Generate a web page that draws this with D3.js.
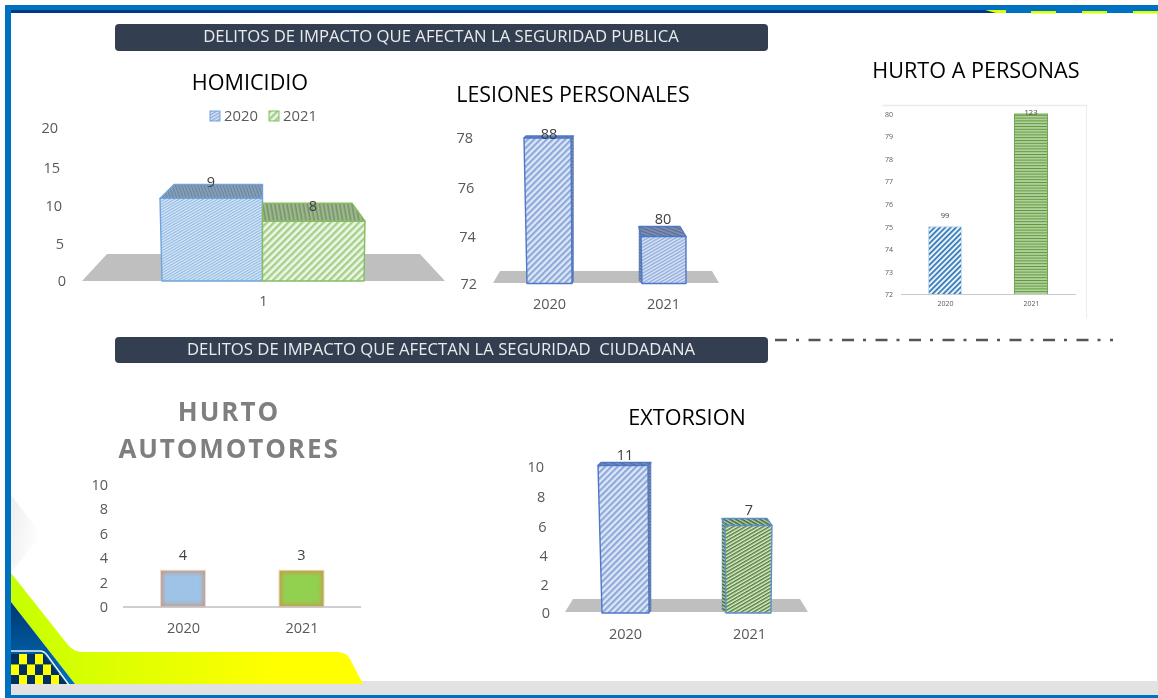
<!DOCTYPE html>
<html>
<head>
<meta charset="utf-8">
<script src="https://cdn.jsdelivr.net/npm/d3@7"></script>
<style>
  html, body { margin: 0; padding: 0; background: #fff; }
  svg { display: block; filter: blur(0.35px); }
  text { font-family: "Open Sans", sans-serif; }
  .tick text { fill: #595959; }
</style>
</head>
<body>
<div id="chart"></div>
<script>
// years shown on every chart
const years = ["2020", "2021"];

// bar heights follow the axis, the printed labels do not (same as the original slide)
const homicidioValues = [11, 8];
const homicidioLabels = [9, 8];
const homicidioTicks = [0, 5, 10, 15, 20];

const lesionesValues = [78, 74];
const lesionesLabels = [88, 80];
const lesionesTicks = [72, 74, 76, 78];

const personasValues = [75, 80];
const personasLabels = [99, 123];
const personasTicks = [72, 73, 74, 75, 76, 77, 78, 79, 80];

const automotoresValues = [3, 3];
const automotoresLabels = [4, 3];
const automotoresTicks = [0, 2, 4, 6, 8, 10];

const extorsionValues = [10.1, 6.1];
const extorsionLabels = [11, 7];
const extorsionTicks = [0, 2, 4, 6, 8, 10];

const width = 1158, height = 698;

const svg = d3.select("#chart").append("svg")
  .attr("width", width)
  .attr("height", height)
  .attr("viewBox", [0, 0, width, height]);

const defs = svg.append("defs");

// hatch fill: lines of one colour on a flat background
function hatch(id, bg, line, size, angle, sw) {
  const p = defs.append("pattern")
    .attr("id", id)
    .attr("patternUnits", "userSpaceOnUse")
    .attr("width", size)
    .attr("height", size)
    .attr("patternTransform", `rotate(${angle})`);
  p.append("rect").attr("width", size).attr("height", size).attr("fill", bg);
  p.append("rect").attr("width", size).attr("height", sw).attr("fill", line);
}
hatch("hBlue", "#dbe8f6", "#8db8e4", 2.4, -30, 1.1);
hatch("hBlueTop", "#8f9fb0", "#5f86ad", 3, 70, 1.2);
hatch("hGreen", "#eef6e8", "#a5d08a", 5, -45, 2.4);
hatch("hGreenTop", "#a3b39a", "#6f9a58", 4, 80, 1.6);
hatch("lBlue", "#dfe8f7", "#8eaadb", 4.4, -45, 2.2);
hatch("lBlueFine", "#dfe8f7", "#8eaadb", 2.8, -30, 1.4);
hatch("lTop", "#8b93a3", "#4f6ea8", 3, 20, 1.4);
hatch("pBlue", "#eaf3fa", "#2e75b6", 3.8, -45, 1.7);
hatch("pGreen", "#b5d0a0", "#5c9a38", 2.8, 0, 1);
hatch("eGreen", "#e4eeda", "#4f7f32", 3, -30, 1.5);
hatch("eTop", "#c5cfbd", "#3d6b2a", 3, 30, 1.6);

function gradient(id, stops, x2, y2) {
  const g = defs.append("linearGradient").attr("id", id)
    .attr("x1", 0).attr("y1", 0).attr("x2", x2).attr("y2", y2);
  stops.forEach((c, i) => g.append("stop").attr("offset", i / (stops.length - 1)).attr("stop-color", c));
}
gradient("yellowGrad", ["#c6ff00", "#ffff00"], 0.75, 0);
gradient("navyGrad", ["#00386f", "#0070c0"], 0, 1);
gradient("greyGrad", ["#eeeeee", "#ffffff"], 1, 0.4);

defs.append("filter").attr("id", "soft")
  .append("feGaussianBlur").attr("stdDeviation", 2.2);

// ---- slide background ----
const line = d3.line();
const bg = svg.append("g");
bg.append("rect").attr("width", width).attr("height", height).attr("fill", "#fff");
bg.append("path").attr("d", "M11,495 L42,535 L11,572 Z").attr("fill", "url(#greyGrad)");
bg.append("rect").attr("x", 11).attr("y", 684).attr("width", 1147).attr("height", 11).attr("fill", "#e2e2e2");
bg.append("rect").attr("x", 360).attr("y", 681).attr("width", 798).attr("height", 4).attr("fill", "#e2e2e2");
bg.append("path")
  .attr("d", "M11,573 L68,645 Q74,652 82,652 L338,652 Q346,652 350,659 L363,684 L75,684 L11,602 Z")
  .attr("fill", "url(#yellowGrad)");
bg.append("path").attr("d", "M11,602 L75,684 L11,684 Z").attr("fill", "url(#navyGrad)");
defs.append("clipPath").attr("id", "checkClip")
  .append("path").attr("d", "M11,652 L42,652 L67,684 L11,684 Z");
const checks = bg.append("g").attr("clip-path", "url(#checkClip)");
d3.range(3).forEach(r => d3.range(8).forEach(c => {
  checks.append("rect")
    .attr("x", 11 + c * 8).attr("y", 654 + r * 10.5)
    .attr("width", 8).attr("height", 10.5)
    .attr("fill", (r + c) % 2 ? "#ffff00" : "#00305f");
}));
bg.append("path").attr("d", "M11,651 L40,651 Q44,651 47,655 L69,685")
  .attr("fill", "none").attr("stroke", "#f4f4f4").attr("stroke-width", 1.4);

// frame
bg.append("rect").attr("x", 5).attr("y", 5).attr("width", 6).attr("height", 693).attr("fill", "#0070c0");
bg.append("rect").attr("x", 5).attr("y", 5).attr("width", 1153).attr("height", 8).attr("fill", "#0070c0");
bg.append("rect").attr("x", 11).attr("y", 10).attr("width", 985).attr("height", 3).attr("fill", "#003a85");
bg.append("rect").attr("x", 5).attr("y", 695).attr("width", 1153).attr("height", 3).attr("fill", "#0070c0");
bg.append("rect").attr("x", 1157).attr("y", 13).attr("width", 1).attr("height", 668).attr("fill", "#d9d9d9");
bg.append("path").attr("d", "M985,10 L1006,10 L1006,13 L996,13 Z").attr("fill", "#dcff00");
[1031, 1082, 1133].forEach(x => {
  bg.append("rect").attr("x", x).attr("y", 11).attr("width", 25).attr("height", 2.5).attr("fill", "#dcff00");
});

// ---- banners and titles ----
function banner(y, h, label) {
  svg.append("rect").attr("x", 115).attr("y", y).attr("width", 653).attr("height", h)
    .attr("rx", 4).attr("fill", "#333f50");
  svg.append("text").attr("x", 441).attr("y", y + h / 2 + 0.5)
    .attr("text-anchor", "middle").attr("dominant-baseline", "middle")
    .attr("font-size", 16.7).attr("fill", "#e9ebee")
    .attr("xml:space", "preserve").style("white-space", "pre")
    .text(label);
}
banner(24, 27, "DELITOS DE IMPACTO QUE AFECTAN LA SEGURIDAD PUBLICA");
banner(337, 26, "DELITOS DE IMPACTO QUE AFECTAN LA SEGURIDAD  CIUDADANA");

function title(label, x, y, size) {
  svg.append("text").attr("x", x).attr("y", y)
    .attr("text-anchor", "middle").attr("dominant-baseline", "middle")
    .attr("font-size", size).attr("fill", "#000").text(label);
}
title("HOMICIDIO", 250, 84.5, 21.6);
title("LESIONES PERSONALES", 573, 96.5, 21.4);
title("HURTO A PERSONAS", 976, 72.5, 21.6);
title("EXTORSION", 687, 419.5, 21.6);

svg.append("text").attr("x", 229).attr("y", 421).attr("text-anchor", "middle")
  .attr("font-size", 26).attr("font-weight", 700).attr("letter-spacing", 2).attr("fill", "#7f7f7f").text("HURTO");
svg.append("text").attr("x", 229).attr("y", 458).attr("text-anchor", "middle")
  .attr("font-size", 26).attr("font-weight", 700).attr("letter-spacing", 1.9).attr("fill", "#7f7f7f").text("AUTOMOTORES");

svg.append("path")
  .attr("d", line([[775, 340], [1113, 340]]))
  .attr("stroke", "#555").attr("stroke-width", 2.6)
  .attr("stroke-dasharray", "12 9 3 9.5");

// ---- helpers ----
// slant: tick labels lean left going up, the 3D charts have them in perspective
function yAxis(y, ticks, x, size, slant = 0) {
  const g = svg.append("g")
    .attr("transform", `translate(${x},0)`)
    .call(d3.axisLeft(y).tickValues(ticks).tickSize(0).tickPadding(0).tickFormat(d3.format("d")));
  g.select(".domain").remove();
  g.selectAll("text")
    .attr("x", d => -(y(ticks[0]) - y(d)) * slant)
    .attr("font-size", size)
    .style("font-family", '"Open Sans", sans-serif');
  return g;
}

function xAxis(x, yPos, size) {
  const g = svg.append("g")
    .attr("transform", `translate(0,${yPos})`)
    .call(d3.axisBottom(x).tickSize(0).tickPadding(0));
  g.select(".domain").remove();
  g.selectAll("text").attr("font-size", size).style("font-family", '"Open Sans", sans-serif');
  return g;
}

function floor(xL, xR, inset, yBase, yBack) {
  svg.append("path")
    .attr("d", line([[xL, yBase], [xR, yBase], [xR - inset, yBack], [xL + inset, yBack]]) + "Z")
    .attr("fill", "#bfbfbf");
}

// box with front, top and an optional side face
function box(xL, xR, yTop, yBase, s) {
  const g = svg.append("g")
    .attr("stroke", s.stroke).attr("stroke-width", s.sw).attr("stroke-linejoin", "round");
  const bL = xL + s.backL, bR = xR + s.backR, yB = yTop - s.depth;
  if (s.backR > 0) {
    g.append("path").attr("d", line([[xR, yTop], [bR, yB], [bR, yBase - 2], [xR - s.inR, yBase]]) + "Z")
      .attr("fill", `url(#${s.top})`).attr("stroke-width", 0.5);
  }
  if (s.backL < 0) {
    g.append("path").attr("d", line([[xL, yTop], [bL, yB], [bL, yBase - 3], [xL + s.inL, yBase]]) + "Z")
      .attr("fill", `url(#${s.top})`).attr("stroke-width", 0.5);
  }
  g.append("path").attr("d", line([[xL, yTop], [bL, yB], [bR, yB], [xR, yTop]]) + "Z")
    .attr("fill", `url(#${s.top})`);
  g.append("path").attr("d", line([[xL, yTop], [xR, yTop], [xR - s.inR, yBase], [xL + s.inL, yBase]]) + "Z")
    .attr("fill", `url(#${s.front})`);
}

function barLabels(x, y, values, labels, size, offset) {
  svg.append("g").selectAll("text")
    .data(years)
    .join("text")
    .attr("x", d => x(d))
    .attr("y", (d, i) => y(values[i]) + offset[i])
    .attr("text-anchor", "middle")
    .attr("dominant-baseline", "middle")
    .attr("font-size", size)
    .attr("fill", "#404040")
    .text((d, i) => labels[i]);
}

// ---- HOMICIDIO ----
{
  const y = d3.scaleLinear().domain(homicidioTicks).range([281, 244, 206, 168, 128]);
  const x = d3.scaleBand().domain(years).range([160, 365]);
  floor(82, 445, 25, 281, 254);
  yAxis(y, homicidioTicks, 66, 14.5, 8 / 153);
  const styles = [
    { front: "hBlue", top: "hBlueTop", stroke: "#6fa5dc", sw: 1.4, inL: 2, inR: 0, backL: 14, backR: 0, depth: 14 },
    { front: "hGreen", top: "hGreenTop", stroke: "#85bd62", sw: 1.4, inL: 0, inR: 1, backL: 0, backR: -13, depth: 18 }
  ];
  years.forEach((d, i) => box(x(d), x(d) + x.bandwidth(), y(homicidioValues[i]), y(0), styles[i]));
  const cx = d3.scalePoint().domain(years).range([211, 313]);
  barLabels(cx, y, homicidioValues, homicidioLabels, 14.5, [-15, -14]);
  const cat = d3.scalePoint().domain(["1"]).range([263, 263]).padding(0);
  xAxis(cat, 296, 14.5);

  // legend
  const legend = svg.append("g").selectAll("g").data(years).join("g")
    .attr("transform", (d, i) => `translate(${210 + i * 59},111)`);
  legend.append("rect").attr("width", 10).attr("height", 10)
    .attr("fill", (d, i) => i ? "url(#hGreen)" : "url(#lBlueFine)")
    .attr("stroke", (d, i) => i ? "#85bd62" : "#6fa5dc");
  legend.append("text").attr("x", 14).attr("y", 6.5)
    .attr("dominant-baseline", "middle").attr("font-size", 14.8).attr("fill", "#595959").text(d => d);
}

// ---- LESIONES PERSONALES ----
{
  const y = d3.scaleLinear().domain(lesionesTicks).range([283.5, 236.5, 188, 138]);
  const x = d3.scalePoint().domain(years).range([549, 663]);
  floor(493, 719, 7, 283, 271);
  yAxis(y, lesionesTicks, 477, 14.5, 4 / 146);
  const styles = [
    { front: "lBlue", top: "lTop", stroke: "#4f77c7", sw: 1.4, inL: 3, inR: -1, backL: 2, backR: 2.5, depth: 2 },
    { front: "lBlueFine", top: "lTop", stroke: "#4f77c7", sw: 1.4, inL: 1, inR: 0, backL: -2, backR: -6, depth: 10 }
  ];
  years.forEach((d, i) => box(x(d) - 25 + i * 3, x(d) + 22 + i, y(lesionesValues[i]), y(72), styles[i]));
  barLabels(x, y, lesionesValues, lesionesLabels, 14.5, [-3, -16]);
  xAxis(x, 298.5, 14.5);
}

// ---- HURTO A PERSONAS ----
{
  const y = d3.scaleLinear().domain([72, 80]).range([294.5, 114]);
  const x = d3.scalePoint().domain(years).range([945, 1031]);
  svg.append("path").attr("d", line([[882, 105.5], [1087, 105.5]])).attr("stroke", "#ececec").attr("stroke-width", 1.5);
  svg.append("path").attr("d", line([[1086.5, 105], [1086.5, 318]])).attr("stroke", "#ececec");
  yAxis(y, personasTicks, 893, 7);
  const fills = ["url(#pBlue)", "url(#pGreen)"];
  const strokes = ["#c6dcec", "#6fa84e"];
  svg.append("g").selectAll("rect").data(years).join("rect")
    .attr("x", d => x(d) - 16.5)
    .attr("y", (d, i) => y(personasValues[i]))
    .attr("width", 33)
    .attr("height", (d, i) => y(72) - y(personasValues[i]))
    .attr("fill", (d, i) => fills[i])
    .attr("stroke", (d, i) => strokes[i]);
  svg.append("path").attr("d", line([[901, 294.5], [1076, 294.5]])).attr("stroke", "#c9c9c9");
  barLabels(x, y, personasValues, personasLabels, 7.5, [-11, -1]);
  xAxis(x, 301, 7);
}

// ---- HURTO AUTOMOTORES ----
{
  const y = d3.scaleLinear().domain([0, 10]).range([607, 484.5]);
  const x = d3.scalePoint().domain(years).range([183, 301.5]);
  yAxis(y, automotoresTicks, 108, 14.5);
  const fills = ["#9dc3e6", "#92d050"];
  const edges = ["#c49a86", "#c6984f"];
  const outer = ["#f0d9cc", "#f2dcb8"];
  defs.append("clipPath").attr("id", "autoClip").selectAll("rect").data(years).join("rect")
    .attr("x", d => x(d) - 22.5)
    .attr("y", (d, i) => y(automotoresValues[i]))
    .attr("width", 45)
    .attr("height", (d, i) => y(0) - y(automotoresValues[i]));
  const bars = svg.append("g").selectAll("g").data(years).join("g");
  bars.append("rect")
    .attr("x", d => x(d) - 22.5)
    .attr("y", (d, i) => y(automotoresValues[i]))
    .attr("width", 45)
    .attr("height", (d, i) => y(0) - y(automotoresValues[i]))
    .attr("fill", (d, i) => fills[i]);
  // soft inner edge
  bars.append("g").attr("clip-path", "url(#autoClip)").append("rect")
    .attr("x", d => x(d) - 22.5)
    .attr("y", (d, i) => y(automotoresValues[i]))
    .attr("width", 45)
    .attr("height", (d, i) => y(0) - y(automotoresValues[i]))
    .attr("fill", "none")
    .attr("stroke", (d, i) => edges[i])
    .attr("stroke-width", 5)
    .attr("filter", "url(#soft)");
  bars.append("rect")
    .attr("x", d => x(d) - 22.5)
    .attr("y", (d, i) => y(automotoresValues[i]))
    .attr("width", 45)
    .attr("height", (d, i) => y(0) - y(automotoresValues[i]))
    .attr("fill", "none")
    .attr("stroke", (d, i) => outer[i]);
  svg.append("path").attr("d", line([[123, 607], [361, 607]])).attr("stroke", "#bfbfbf").attr("stroke-width", 1.5);
  barLabels(x, y, automotoresValues, automotoresLabels, 14.5, [-14, -14]);
  xAxis(x, 622.5, 14.5);
}

// ---- EXTORSION ----
{
  const y = d3.scaleLinear().domain(extorsionTicks).range([613, 585, 556, 527, 497, 467]);
  const x = d3.scalePoint().domain(years).range([625, 749]);
  floor(565, 808, 8, 612, 599);
  yAxis(y, extorsionTicks, 550, 14.5, 6 / 146);
  const styles = [
    { front: "lBlue", top: "lTop", stroke: "#4f77c7", sw: 1.4, inL: 4, inR: -1, backL: 3, backR: 3, depth: 3 },
    { front: "eGreen", top: "eTop", stroke: "#5b8fd0", sw: 1.3, inL: 1, inR: 1, backL: -3, backR: -5, depth: 7 }
  ];
  years.forEach((d, i) => box(x(d) - 27 + i * 3, x(d) + 23, y(extorsionValues[i]), y(0), styles[i]));
  barLabels(x, y, extorsionValues, extorsionLabels, 14.5, [-9, -14]);
  xAxis(x, 628.5, 14.5);
}
</script>
</body>
</html>
